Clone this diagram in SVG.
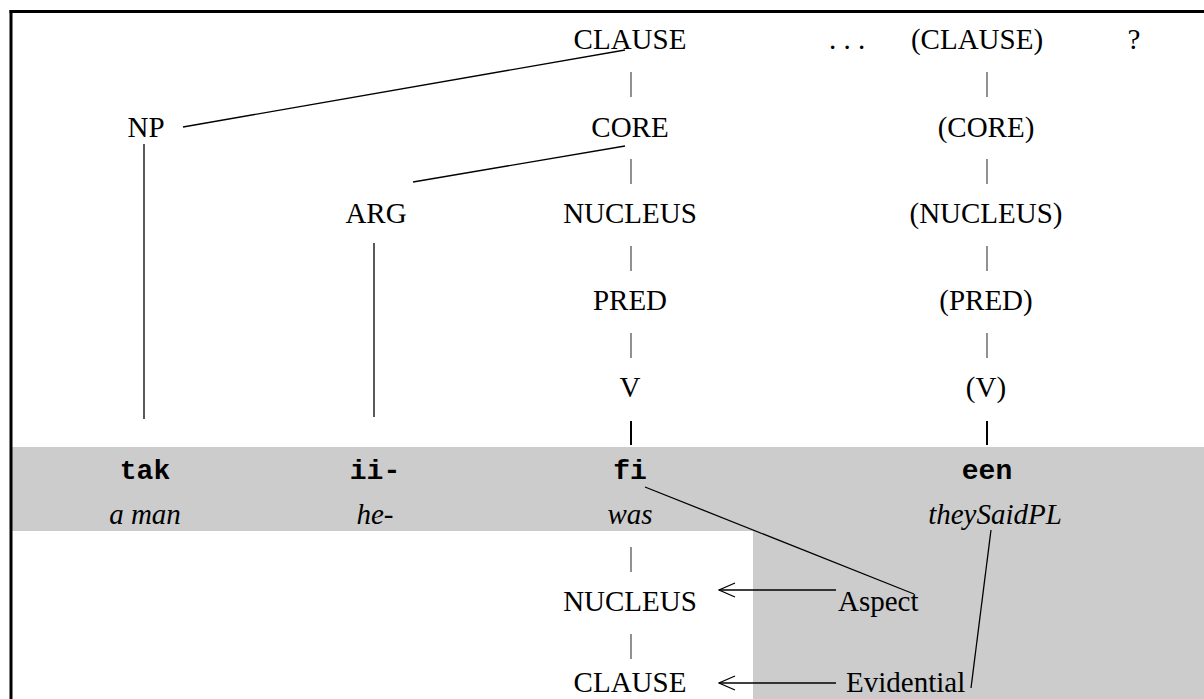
<svg xmlns="http://www.w3.org/2000/svg" width="1204" height="699" viewBox="0 0 1204 699">
  <style>
    .lbl { font-family: "Liberation Serif", "Times New Roman", serif; font-size: 29px; fill: #000; text-anchor: middle; }
    .left { text-anchor: start; }
    .word { font-family: "Liberation Mono", "Courier New", monospace; font-size: 28px; font-weight: bold; fill: #000; text-anchor: middle; }
    .gloss { font-family: "Liberation Serif", "Times New Roman", serif; font-size: 29px; font-style: italic; fill: #000; text-anchor: middle; }
    .edge { stroke: #000; stroke-width: 1.3; fill: none; }
    .bar { stroke: #555; stroke-width: 1.3; fill: none; }
    .bar-strong { stroke: #000; stroke-width: 2; fill: none; }
    .band { fill: #cccccc; }
  </style>
  <defs>
    <!-- open "<" head; tip sits on the end point of the line -->
    <marker id="openHead" viewBox="0 0 18 16" refX="17" refY="8" markerWidth="18" markerHeight="16" markerUnits="userSpaceOnUse" orient="auto">
      <path d="M1,1 L17,8 L1,15" fill="none" stroke="#000" stroke-width="1.3"/>
    </marker>
  </defs>

  <!-- background and shaded bands -->
  <rect x="0" y="0" width="1204" height="699" fill="#fff"/>
  <rect class="band" x="11" y="447" width="1193" height="84"/>
  <rect class="band" x="753" y="531" width="451" height="168"/>

  <!-- frame -->
  <g id="frame">
    <line x1="9.5" y1="11.5" x2="1204" y2="11.5" stroke="#000" stroke-width="3"/>
    <line x1="11" y1="10" x2="11" y2="699" stroke="#000" stroke-width="3"/>
  </g>

  <!-- connectors -->
  <g id="connectors">
    <line class="edge" x1="183" y1="127" x2="625" y2="50"/>
    <line class="edge" x1="413" y1="182" x2="625" y2="146"/>
    <line class="edge" x1="144" y1="144" x2="144" y2="419"/>
    <line class="edge" x1="374" y1="243" x2="374" y2="417"/>
    <line class="edge" x1="645" y1="487" x2="914" y2="594"/>
    <line class="edge" x1="991" y1="530" x2="971" y2="688"/>

    <!-- main column bars -->
    <line class="bar" x1="631" y1="72" x2="631" y2="97"/>
    <line class="bar" x1="631" y1="159" x2="631" y2="184"/>
    <line class="bar" x1="631" y1="246" x2="631" y2="271"/>
    <line class="bar" x1="631" y1="333" x2="631" y2="358"/>
    <line class="bar-strong" x1="631" y1="421" x2="631" y2="445"/>
    <line class="bar" x1="631" y1="547" x2="631" y2="572"/>
    <line class="bar" x1="631" y1="634" x2="631" y2="659"/>

    <!-- parenthesised column bars -->
    <line class="bar" x1="987" y1="72" x2="987" y2="97"/>
    <line class="bar" x1="987" y1="159" x2="987" y2="184"/>
    <line class="bar" x1="987" y1="246" x2="987" y2="271"/>
    <line class="bar" x1="987" y1="333" x2="987" y2="358"/>
    <line class="bar-strong" x1="987" y1="421" x2="987" y2="445"/>

    <!-- operator arrows -->
    <line class="edge" x1="836" y1="590" x2="719" y2="590" marker-end="url(#openHead)"/>
    <line class="edge" x1="836" y1="683" x2="719" y2="683" marker-end="url(#openHead)"/>
  </g>

  <!-- top row -->
  <g id="n-clause"><text class="lbl" x="630" y="49">CLAUSE</text></g>
  <g id="n-ellipsis"><text class="lbl" x="847" y="49">. . .</text></g>
  <g id="n-clause2"><text class="lbl" x="977" y="49">(CLAUSE)</text></g>
  <g id="n-query"><text class="lbl" x="1134" y="49">?</text></g>

  <g id="n-np"><text class="lbl" x="146" y="137">NP</text></g>
  <g id="n-core"><text class="lbl" x="630" y="137">CORE</text></g>
  <g id="n-core2"><text class="lbl" x="986" y="137">(CORE)</text></g>

  <g id="n-arg"><text class="lbl" x="376" y="223">ARG</text></g>
  <g id="n-nucleus"><text class="lbl" x="630" y="223">NUCLEUS</text></g>
  <g id="n-nucleus2"><text class="lbl" x="986" y="223">(NUCLEUS)</text></g>

  <g id="n-pred"><text class="lbl" x="630" y="310">PRED</text></g>
  <g id="n-pred2"><text class="lbl" x="986" y="310">(PRED)</text></g>

  <g id="n-v"><text class="lbl" x="630" y="397">V</text></g>
  <g id="n-v2"><text class="lbl" x="986" y="397">(V)</text></g>

  <!-- words and glosses -->
  <g id="w-tak"><text class="word" x="145" y="479">tak</text><text class="gloss" x="145" y="524">a man</text></g>
  <g id="w-ii"><text class="word" x="375" y="479">ii-</text><text class="gloss" x="375" y="524">he-</text></g>
  <g id="w-fi"><text class="word" x="630" y="479">fi</text><text class="gloss" x="630" y="524">was</text></g>
  <g id="w-een"><text class="word" x="987" y="479">een</text><text class="gloss" x="995" y="524">theySaidPL</text></g>

  <!-- operator projection -->
  <g id="o-nucleus"><text class="lbl" x="630" y="611">NUCLEUS</text></g>
  <g id="o-clause"><text class="lbl" x="630" y="692">CLAUSE</text></g>
  <g id="o-aspect"><text class="lbl left" x="838" y="611">Aspect</text></g>
  <g id="o-evidential"><text class="lbl left" x="846" y="692">Evidential</text></g>
</svg>
